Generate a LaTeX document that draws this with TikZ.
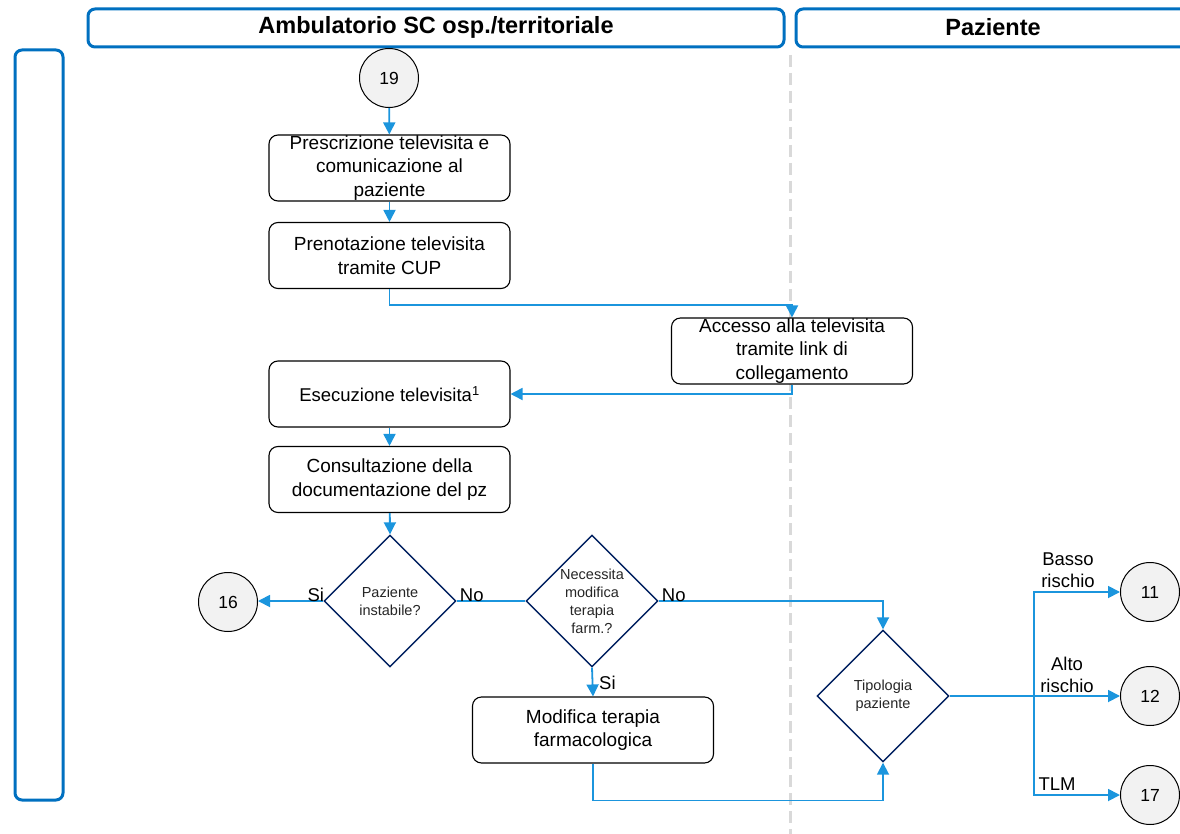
\documentclass[tikz,border=0pt]{standalone}
\usepackage{fontspec}
\setmainfont{Liberation Sans}
\usetikzlibrary{arrows.meta,shapes.geometric}
\definecolor{laneblue}{RGB}{0,112,192}
\definecolor{flowblue}{RGB}{27,149,221}
\definecolor{navy}{RGB}{0,32,96}
\definecolor{circfill}{RGB}{242,242,242}
\definecolor{dashgray}{RGB}{217,217,217}
\tikzset{
  lanehead/.style={draw=laneblue, line width=3pt, rounded corners=7pt},
  headtext/.style={font=\fontsize{23.5}{26}\selectfont\bfseries},
  stepbox/.style={draw=black, line width=1.1pt, rounded corners=9pt, fill=white,
    minimum width=241pt, minimum height=66pt, align=center, inner sep=0pt,
    font=\fontsize{19}{23.5}\selectfont},
  decision/.style={draw=navy, line width=1.4pt, fill=white, diamond, aspect=1,
    minimum width=132pt, minimum height=132pt, inner sep=0pt},
  dtext/.style={align=center, font=\fontsize{14.5}{18}\selectfont, text=black!85},
  conn/.style={draw=black, line width=1pt, fill=circfill, circle, minimum size=59pt,
    inner sep=0pt, font=\fontsize{17.5}{20}\selectfont},
  flow/.style={draw=flowblue, line width=1.8pt},
  flowarr/.style={flow, -{Triangle[length=12pt,width=12pt]}},
  elabel/.style={font=\fontsize{18.5}{22.5}\selectfont, inner sep=0pt, align=center}
}
\begin{document}
\begin{tikzpicture}[x=1pt,y=-1pt]
\useasboundingbox (0,0) rectangle (1180,834);

% swimlane headers and side band
\draw[lanehead] (88,9) rectangle (784,47);
\node[headtext] (h1) at (436,27) {Ambulatorio SC osp./territoriale};
\draw[lanehead] (796,9) rectangle (1194,47);
\node[headtext] (h2) at (993,27) {Paziente};
\draw[lanehead] (15,50) rectangle (63,800);
\draw[dashgray, line width=3pt, dash pattern=on 12pt off 6pt] (790,55) -- (790,834);

% nodes
\node[conn] (c19) at (389,78) {19};
\node[stepbox] (b1) at (389.5,168) {Prescrizione televisita e\\comunicazione al\\paziente};
\node[stepbox] (b2) at (389.5,255.5) {Prenotazione televisita\\tramite CUP};
\node[stepbox] (b3) at (792,351) {Accesso alla televisita\\tramite link di\\collegamento};
\node[stepbox, font=\fontsize{18.5}{23}\selectfont] (b4) at (389.5,394) {Esecuzione televisita\textsuperscript{1}};
\node[stepbox] (b5) at (389.5,479.5) {Consultazione della\\documentazione del pz};
\node[decision] (d1) at (390,601) {};
\node[dtext] (t1) at (d1) {Paziente\\instabile?};
\node[decision] (d2) at (592,601) {};
\node[dtext] (t2) at (d2) {Necessita\\modifica\\terapia\\farm.?};
\node[decision] (d3) at (883,696) {};
\node[dtext] (t3) at (d3) {Tipologia\\paziente};
\node[stepbox] (b6) at (593,730) {Modifica terapia\\farmacologica};
\node[conn] (c16) at (228,602) {16};
\node[conn] (c11) at (1150,592) {11};
\node[conn] (c12) at (1150,696) {12};
\node[conn] (c17) at (1150,795) {17};
\coordinate (j) at (1034,696);

% connectors
\draw[flowarr] (c19) -- (b1);
\draw[flowarr] (b1) -- (b2);
\draw[flowarr] (b2.south) -- ++(0,16) -| (b3.north);
\draw[flowarr] (b3.south) |- (b4.east);
\draw[flowarr] (b4) -- (b5);
\draw[flowarr] (b5) -- (d1.north);
\draw[flowarr] (d1.west) -- (d1.west -| c16.east);
\draw[flow] (d1.east) -- (d2.west);
\draw[flowarr] (d2.east) -| (d3.north);
\draw[flowarr] (d2.south) -- (b6.north);
\draw[flowarr] (b6.south) -- ++(0,37) -| (d3.south);
\draw[flowarr] (d3.east) -- (c12.west);
\draw[flowarr] (j) |- (c11.west);
\draw[flowarr] (j) |- (c17.west);

% branch labels
\node[elabel, anchor=south east] (lsi1) at ([xshift=1pt,yshift=-1pt]d1.west) {Si};
\node[elabel, anchor=south west] (lno1) at ([xshift=3pt,yshift=-1pt]d1.east) {No};
\node[elabel, anchor=south west] (lno2) at ([xshift=3pt,yshift=-1pt]d2.east) {No};
\node[elabel, anchor=west] (lsi2) at (599,683) {Si};
\node[elabel] (lbasso) at (1068,570) {Basso\\rischio};
\node[elabel] (lalto) at (1067,675) {Alto\\rischio};
\node[elabel] (ltlm) at (1057,784) {TLM};
\end{tikzpicture}
\end{document}
